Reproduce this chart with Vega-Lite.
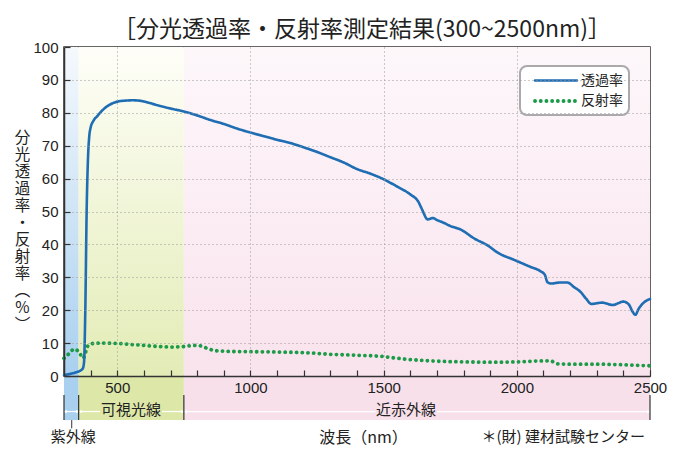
{
  "$schema": "https://vega.github.io/schema/vega-lite/v6.json",
  "width": 586,
  "height": 329,
  "autosize": {"type": "none"},
  "padding": {"left": 64, "top": 47, "right": 28, "bottom": 86},
  "background": "white",
  "config": {
    "view": {"stroke": "#333", "strokeWidth": 1.5},
    "font": "Noto Sans CJK JP",
    "legend": {"strokeWidth": 2}
  },
  "title": {
    "text": "［分光透過率・反射率測定結果(300~2500nm)］",
    "font": "Noto Sans CJK JP",
    "fontSize": 23,
    "fontWeight": "normal",
    "color": "#222",
    "anchor": "middle",
    "offset": -2,
    "dx": 5
  },
  "datasets": {
    "bands": [
      {"band": "uv", "x0": 300, "x1": 355, "label": "", "xc": 327},
      {"band": "vis", "x0": 355, "x1": 750, "label": "可視光線", "xc": 552},
      {"band": "nir", "x0": 750, "x1": 2500, "label": "近赤外線", "xc": 1584}
    ],
    "bounds": [{"x": 300}, {"x": 355}, {"x": 750}, {"x": 2500}],
    "segs": [
      {"a": 302, "b": 353},
      {"a": 358, "b": 435},
      {"a": 668, "b": 748},
      {"a": 753, "b": 1470},
      {"a": 1700, "b": 2497}
    ],
    "arrows": [
      {"x": 304, "dir": "l"}, {"x": 351, "dir": "r"},
      {"x": 360, "dir": "l"}, {"x": 746, "dir": "r"},
      {"x": 755, "dir": "l"}, {"x": 2495, "dir": "r"}
    ],
    "lines": [
      {"wl": 300, "v": 5.4, "s": "反射率"},
      {"wl": 315, "v": 6.5, "s": "反射率"},
      {"wl": 330, "v": 7.8, "s": "反射率"},
      {"wl": 341, "v": 8.2, "s": "反射率"},
      {"wl": 352, "v": 7.6, "s": "反射率"},
      {"wl": 362, "v": 6.5, "s": "反射率"},
      {"wl": 370, "v": 5.4, "s": "反射率"},
      {"wl": 378, "v": 6.2, "s": "反射率"},
      {"wl": 385, "v": 8.5, "s": "反射率"},
      {"wl": 395, "v": 9.5, "s": "反射率"},
      {"wl": 410, "v": 9.9, "s": "反射率"},
      {"wl": 450, "v": 10.0, "s": "反射率"},
      {"wl": 500, "v": 9.9, "s": "反射率"},
      {"wl": 550, "v": 9.6, "s": "反射率"},
      {"wl": 600, "v": 9.3, "s": "反射率"},
      {"wl": 650, "v": 9.0, "s": "反射率"},
      {"wl": 700, "v": 8.8, "s": "反射率"},
      {"wl": 740, "v": 8.9, "s": "反射率"},
      {"wl": 790, "v": 9.3, "s": "反射率"},
      {"wl": 815, "v": 9.1, "s": "反射率"},
      {"wl": 840, "v": 8.3, "s": "反射率"},
      {"wl": 870, "v": 7.7, "s": "反射率"},
      {"wl": 910, "v": 7.5, "s": "反射率"},
      {"wl": 1000, "v": 7.4, "s": "反射率"},
      {"wl": 1100, "v": 7.3, "s": "反射率"},
      {"wl": 1200, "v": 7.1, "s": "反射率"},
      {"wl": 1300, "v": 6.6, "s": "反射率"},
      {"wl": 1400, "v": 6.3, "s": "反射率"},
      {"wl": 1500, "v": 5.9, "s": "反射率"},
      {"wl": 1550, "v": 5.4, "s": "反射率"},
      {"wl": 1600, "v": 5.0, "s": "反射率"},
      {"wl": 1700, "v": 4.5, "s": "反射率"},
      {"wl": 1800, "v": 4.3, "s": "反射率"},
      {"wl": 1900, "v": 4.2, "s": "反射率"},
      {"wl": 2000, "v": 4.3, "s": "反射率"},
      {"wl": 2100, "v": 4.6, "s": "反射率"},
      {"wl": 2130, "v": 4.5, "s": "反射率"},
      {"wl": 2150, "v": 3.7, "s": "反射率"},
      {"wl": 2200, "v": 3.6, "s": "反射率"},
      {"wl": 2300, "v": 3.6, "s": "反射率"},
      {"wl": 2400, "v": 3.4, "s": "反射率"},
      {"wl": 2500, "v": 3.1, "s": "反射率"},
      {"wl": 300, "v": 0.3, "s": "透過率"},
      {"wl": 320, "v": 0.6, "s": "透過率"},
      {"wl": 340, "v": 1.0, "s": "透過率"},
      {"wl": 360, "v": 1.6, "s": "透過率"},
      {"wl": 370, "v": 2.2, "s": "透過率"},
      {"wl": 375, "v": 4, "s": "透過率"},
      {"wl": 380, "v": 20, "s": "透過率"},
      {"wl": 385, "v": 50, "s": "透過率"},
      {"wl": 390, "v": 66, "s": "透過率"},
      {"wl": 395, "v": 73, "s": "透過率"},
      {"wl": 400, "v": 75.5, "s": "透過率"},
      {"wl": 410, "v": 77.5, "s": "透過率"},
      {"wl": 425, "v": 79, "s": "透過率"},
      {"wl": 450, "v": 81.2, "s": "透過率"},
      {"wl": 475, "v": 82.6, "s": "透過率"},
      {"wl": 500, "v": 83.4, "s": "透過率"},
      {"wl": 530, "v": 83.7, "s": "透過率"},
      {"wl": 560, "v": 83.8, "s": "透過率"},
      {"wl": 590, "v": 83.6, "s": "透過率"},
      {"wl": 620, "v": 83.0, "s": "透過率"},
      {"wl": 660, "v": 82.1, "s": "透過率"},
      {"wl": 700, "v": 81.3, "s": "透過率"},
      {"wl": 750, "v": 80.4, "s": "透過率"},
      {"wl": 800, "v": 79.2, "s": "透過率"},
      {"wl": 850, "v": 77.8, "s": "透過率"},
      {"wl": 900, "v": 76.6, "s": "透過率"},
      {"wl": 950, "v": 75.2, "s": "透過率"},
      {"wl": 1000, "v": 74.0, "s": "透過率"},
      {"wl": 1050, "v": 72.9, "s": "透過率"},
      {"wl": 1100, "v": 71.8, "s": "透過率"},
      {"wl": 1150, "v": 70.8, "s": "透過率"},
      {"wl": 1200, "v": 69.5, "s": "透過率"},
      {"wl": 1250, "v": 68.1, "s": "透過率"},
      {"wl": 1300, "v": 66.5, "s": "透過率"},
      {"wl": 1350, "v": 64.9, "s": "透過率"},
      {"wl": 1400, "v": 62.9, "s": "透過率"},
      {"wl": 1450, "v": 61.5, "s": "透過率"},
      {"wl": 1500, "v": 59.8, "s": "透過率"},
      {"wl": 1550, "v": 57.6, "s": "透過率"},
      {"wl": 1600, "v": 55.2, "s": "透過率"},
      {"wl": 1630, "v": 53.0, "s": "透過率"},
      {"wl": 1645, "v": 50.5, "s": "透過率"},
      {"wl": 1665, "v": 47.6, "s": "透過率"},
      {"wl": 1685, "v": 48.0, "s": "透過率"},
      {"wl": 1700, "v": 47.4, "s": "透過率"},
      {"wl": 1725, "v": 46.6, "s": "透過率"},
      {"wl": 1750, "v": 45.6, "s": "透過率"},
      {"wl": 1790, "v": 44.5, "s": "透過率"},
      {"wl": 1840, "v": 41.8, "s": "透過率"},
      {"wl": 1890, "v": 39.7, "s": "透過率"},
      {"wl": 1930, "v": 37.4, "s": "透過率"},
      {"wl": 1990, "v": 35.3, "s": "透過率"},
      {"wl": 2050, "v": 33.2, "s": "透過率"},
      {"wl": 2090, "v": 31.8, "s": "透過率"},
      {"wl": 2105, "v": 30.8, "s": "透過率"},
      {"wl": 2115, "v": 28.5, "s": "透過率"},
      {"wl": 2130, "v": 28.1, "s": "透過率"},
      {"wl": 2160, "v": 28.4, "s": "透過率"},
      {"wl": 2190, "v": 28.4, "s": "透過率"},
      {"wl": 2215, "v": 27.0, "s": "透過率"},
      {"wl": 2240, "v": 25.5, "s": "透過率"},
      {"wl": 2260, "v": 23.5, "s": "透過率"},
      {"wl": 2280, "v": 21.9, "s": "透過率"},
      {"wl": 2320, "v": 22.3, "s": "透過率"},
      {"wl": 2360, "v": 21.6, "s": "透過率"},
      {"wl": 2400, "v": 22.6, "s": "透過率"},
      {"wl": 2420, "v": 21.8, "s": "透過率"},
      {"wl": 2435, "v": 19.5, "s": "透過率"},
      {"wl": 2445, "v": 18.6, "s": "透過率"},
      {"wl": 2458, "v": 20.5, "s": "透過率"},
      {"wl": 2475, "v": 22.2, "s": "透過率"},
      {"wl": 2500, "v": 23.4, "s": "透過率"}
    ]
  },
  "layer": [
    {
      "data": {"name": "bands"},
      "transform": [{"filter": "datum.band === 'uv'"}],
      "mark": {"type": "rect", "color": {"gradient": "linear", "x1": 0, "y1": 0, "x2": 0, "y2": 1, "stops": [{"offset": 0, "color": "#f5f9fd"}, {"offset": 1, "color": "#a9d0ef"}]}},
      "encoding": {
        "x": {"field": "x0", "type": "quantitative", "scale": {"domain": [300, 2500], "nice": false, "zero": false}},
        "x2": {"field": "x1"},
        "y": {"datum": 0, "type": "quantitative", "scale": {"domain": [0, 100], "nice": false, "zero": false}},
        "y2": {"datum": 100}
      }
    },
    {
      "data": {"name": "bands"},
      "transform": [{"filter": "datum.band === 'vis'"}],
      "mark": {"type": "rect", "color": {"gradient": "linear", "x1": 0, "y1": 0, "x2": 0, "y2": 1, "stops": [{"offset": 0, "color": "#fefef8"}, {"offset": 1, "color": "#e3ecb6"}]}},
      "encoding": {
        "x": {"field": "x0", "type": "quantitative", "scale": {"domain": [300, 2500]}},
        "x2": {"field": "x1"},
        "y": {"datum": 0, "type": "quantitative", "scale": {"domain": [0, 100]}},
        "y2": {"datum": 100}
      }
    },
    {
      "data": {"name": "bands"},
      "transform": [{"filter": "datum.band === 'nir'"}],
      "mark": {"type": "rect", "color": {"gradient": "linear", "x1": 0, "y1": 0, "x2": 0, "y2": 1, "stops": [{"offset": 0, "color": "#fdf7fa"}, {"offset": 1, "color": "#f9e3ed"}]}},
      "encoding": {
        "x": {"field": "x0", "type": "quantitative", "scale": {"domain": [300, 2500]}},
        "x2": {"field": "x1"},
        "y": {"datum": 0, "type": "quantitative", "scale": {"domain": [0, 100]}},
        "y2": {"datum": 100}
      }
    },
    {
      "data": {"name": "bands"},
      "mark": {"type": "rect"},
      "encoding": {
        "x": {"field": "x0", "type": "quantitative", "scale": {"domain": [300, 2500]}},
        "x2": {"field": "x1"},
        "y": {"datum": 0, "type": "quantitative", "scale": {"domain": [0, 100]}},
        "y2": {"datum": -13.4},
        "fill": {"field": "band", "type": "nominal", "scale": {"domain": ["uv", "vis", "nir"], "range": ["#a9d0ef", "#dde8a8", "#f8e0eb"]}, "legend": null}
      }
    },
    {
      "data": {"name": "segs"},
      "mark": {"type": "rule", "color": "white", "strokeWidth": 1.2},
      "encoding": {
        "x": {"field": "a", "type": "quantitative", "scale": {"domain": [300, 2500]}},
        "x2": {"field": "b"},
        "y": {"datum": -10.8, "type": "quantitative", "scale": {"domain": [0, 100]}}
      }
    },
    {
      "data": {"name": "arrows"},
      "mark": {"type": "point", "filled": true, "color": "white", "size": 14, "opacity": 1},
      "encoding": {
        "x": {"field": "x", "type": "quantitative", "scale": {"domain": [300, 2500]}},
        "y": {"datum": -10.8, "type": "quantitative", "scale": {"domain": [0, 100]}},
        "shape": {"field": "dir", "type": "nominal", "scale": {"domain": ["l", "r"], "range": ["triangle-left", "triangle-right"]}, "legend": null}
      }
    },
    {
      "data": {"name": "bounds"},
      "mark": {"type": "rule", "color": "#333", "strokeWidth": 1.2},
      "encoding": {
        "x": {"field": "x", "type": "quantitative", "scale": {"domain": [300, 2500]}},
        "y": {"datum": -5.8, "type": "quantitative", "scale": {"domain": [0, 100]}},
        "y2": {"datum": -13.4}
      }
    },
    {
      "data": {"values": [{"x": 329}]},
      "mark": {"type": "rule", "color": "#333", "strokeWidth": 1},
      "encoding": {
        "x": {"field": "x", "type": "quantitative", "scale": {"domain": [300, 2500]}},
        "y": {"datum": -13.4, "type": "quantitative", "scale": {"domain": [0, 100]}},
        "y2": {"datum": -15.9}
      }
    },
    {
      "data": {"name": "bands"},
      "transform": [{"filter": "datum.label !== ''"}],
      "mark": {"type": "text", "font": "Noto Sans CJK JP", "fontSize": 15, "color": "#222", "align": "center", "baseline": "middle"},
      "encoding": {
        "x": {"field": "xc", "type": "quantitative", "scale": {"domain": [300, 2500]}},
        "y": {"datum": -10.3, "type": "quantitative", "scale": {"domain": [0, 100]}},
        "text": {"field": "label"}
      }
    },
    {
      "data": {"values": [{"x": 335, "t": "紫外線"}]},
      "mark": {"type": "text", "font": "Noto Sans CJK JP", "fontSize": 15, "color": "#222", "align": "center", "baseline": "middle"},
      "encoding": {
        "x": {"field": "x", "type": "quantitative", "scale": {"domain": [300, 2500]}},
        "y": {"datum": -18.5, "type": "quantitative", "scale": {"domain": [0, 100]}},
        "text": {"field": "t"}
      }
    },
    {
      "data": {"values": [{"x": 2481, "t": "＊(財) 建材試験センター"}]},
      "mark": {"type": "text", "font": "Noto Sans CJK JP", "fontSize": 15, "color": "#222", "align": "right", "baseline": "middle"},
      "encoding": {
        "x": {"field": "x", "type": "quantitative", "scale": {"domain": [300, 2500]}},
        "y": {"datum": -18.5, "type": "quantitative", "scale": {"domain": [0, 100]}},
        "text": {"field": "t"}
      }
    },
    {
      "data": {"name": "lines"},
      "mark": {"type": "line", "interpolate": "monotone", "strokeCap": "round"},
      "encoding": {
        "x": {"field": "wl", "type": "quantitative", "scale": {"domain": [300, 2500]},
          "axis": {
            "title": "波長（nm）", "titleFont": "Noto Sans CJK JP", "titleFontSize": 16, "titleFontWeight": "normal", "titleColor": "#222",
            "titleX": 299, "titleY": 61, "titleBaseline": "middle", "titleAlign": "center",
            "values": [400, 500, 600, 700, 800, 900, 1000, 1100, 1200, 1300, 1400, 1500, 1600, 1700, 1800, 1900, 2000, 2100, 2200, 2300, 2400, 2500],
            "tickCount": 22,
            "format": "d",
            "labelExpr": "datum.value % 500 === 0 ? datum.label : ''",
            "labelFont": "Liberation Sans", "labelFontSize": 15, "labelColor": "#222", "labelFlush": false, "labelOverlap": false,
            "tickSize": -6, "labelPadding": 10, "tickColor": "#333", "tickWidth": 1.2,
            "domainColor": "#333", "domainWidth": 1.5,
            "grid": true, "gridDash": [1, 3], "gridColor": "#999",
            "gridOpacity": {"condition": {"test": "datum.value % 500 === 0 && datum.value < 2500", "value": 1}, "value": 0},
            "zindex": 1
          }},
        "y": {"field": "v", "type": "quantitative", "scale": {"domain": [0, 100]},
          "axis": {
            "title": ["分", "光", "透", "過", "率", "・", "反", "射", "率", "︵", "%", "︶"],
            "titleAngle": 0, "titleX": -42, "titleY": 83, "titleAlign": "center", "titleBaseline": "top",
            "titleLineHeight": 17, "titleFontSize": 15.5, "titleFont": "Noto Sans CJK JP", "titleFontWeight": "normal", "titleColor": "#222",
            "values": [0, 5, 10, 15, 20, 25, 30, 35, 40, 45, 50, 55, 60, 65, 70, 75, 80, 85, 90, 95, 100],
            "tickCount": 20,
            "labelExpr": "datum.value % 10 === 0 ? datum.label : ''",
            "labelFont": "Liberation Sans", "labelFontSize": 15, "labelColor": "#222", "labelFlush": false, "labelOverlap": false,
            "tickSize": -6, "labelPadding": 12, "tickColor": "#333", "tickWidth": 1.2,
            "domainColor": "#333", "domainWidth": 1.5,
            "grid": true, "gridDash": [1, 3], "gridColor": "#999",
            "gridOpacity": {"condition": {"test": "datum.value % 10 === 0 && datum.value > 0 && datum.value < 100", "value": 1}, "value": 0},
            "zindex": 1
          }},
        "color": {"field": "s", "type": "nominal", "scale": {"domain": ["透過率", "反射率"], "range": ["#1f6db3", "#1b9a47"]},
          "legend": {
            "orient": "none", "legendX": 456, "legendY": 19, "title": null,
            "strokeColor": "#aaa", "cornerRadius": 7, "padding": 6, "fillColor": "white",
            "symbolType": "M0,0H6", "symbolSize": 196, "symbolStrokeWidth": 3,
            "labelFont": "Noto Sans CJK JP", "labelFontSize": 14, "labelColor": "#222", "labelOffset": 37, "rowPadding": 4,
            "encode": {"symbols": {"update": {"strokeCap": {"value": "round"}}}}
          }},
        "strokeDash": {"field": "s", "type": "nominal", "scale": {"domain": ["透過率", "反射率"], "range": [[1, 0], [0.1, 5.6]]},
          "legend": {
            "orient": "none", "legendX": 456, "legendY": 19, "title": null,
            "strokeColor": "#aaa", "cornerRadius": 7, "padding": 6, "fillColor": "white",
            "symbolType": "M0,0H6", "symbolSize": 196, "symbolStrokeWidth": 3,
            "labelFont": "Noto Sans CJK JP", "labelFontSize": 14, "labelColor": "#222", "labelOffset": 37, "rowPadding": 4,
            "encode": {"symbols": {"update": {"strokeCap": {"value": "round"}}}}
          }},
        "strokeWidth": {"field": "s", "type": "nominal", "scale": {"domain": ["透過率", "反射率"], "range": [2.6, 3.8]}, "legend": null}
      }
    }
  ]
}
